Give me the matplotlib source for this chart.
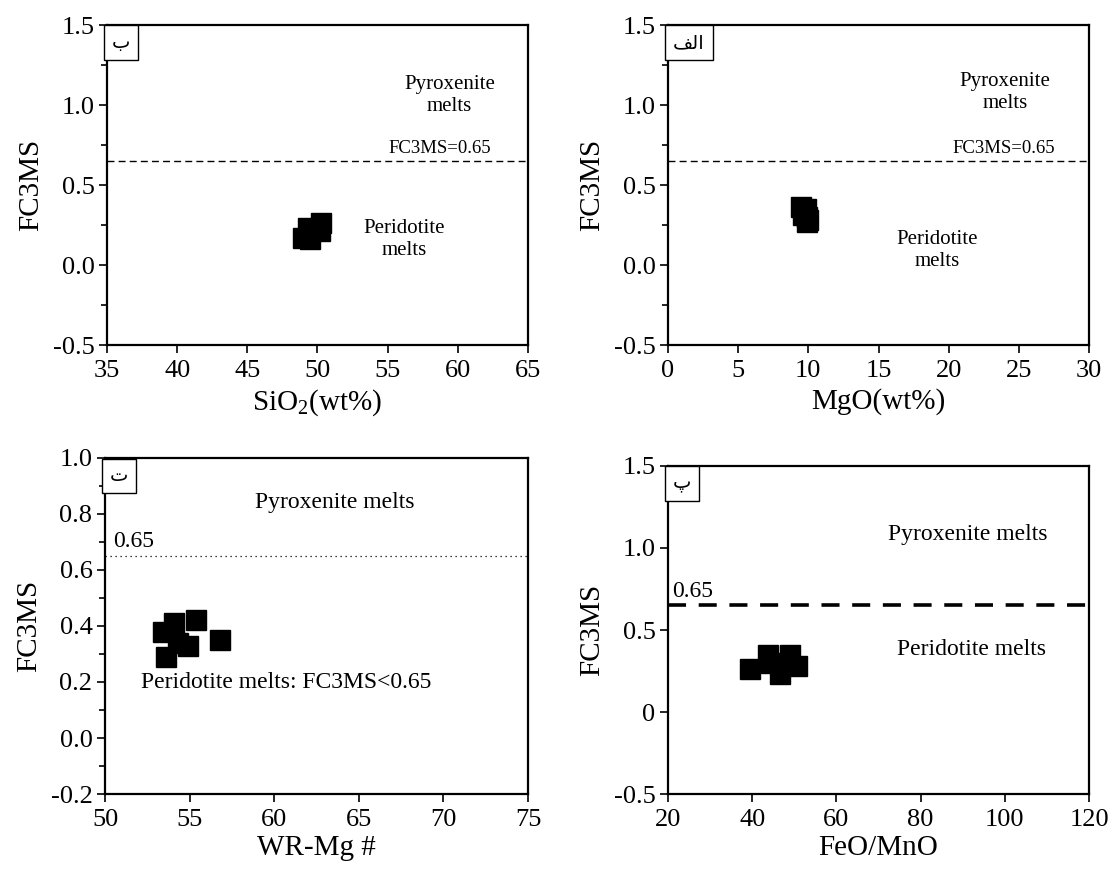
import matplotlib
matplotlib.use('Agg')
import matplotlib.pyplot as plt
from matplotlib.ticker import MultipleLocator, FormatStrFormatter

plt.rcParams['font.family'] = ['Liberation Serif', 'DejaVu Sans']
plt.rcParams['mathtext.fontset'] = 'custom'
plt.rcParams['mathtext.rm'] = 'Liberation Serif'
plt.rcParams['mathtext.it'] = 'Liberation Serif:italic'
plt.rcParams['axes.unicode_minus'] = False

# sample data: FC3MS against four whole-rock parameters
sio2 = [50.25, 49.7, 49.0, 49.5, 50.2, 49.3]
fc3ms_sio2 = [0.26, 0.22, 0.17, 0.16, 0.21, 0.23]

mgo = [9.5, 9.8, 9.6, 9.9, 10.0, 9.9]
fc3ms_mgo = [0.36, 0.35, 0.31, 0.30, 0.28, 0.27]

mg_num = [53.4, 53.6, 54.1, 55.4, 56.8, 54.9, 54.3]
fc3ms_mg = [0.38, 0.29, 0.41, 0.42, 0.35, 0.33, 0.34]

feo_mno = [39.5, 43.8, 49.0, 50.6, 46.6, 44.5]
fc3ms_feo = [0.26, 0.35, 0.35, 0.28, 0.23, 0.30]

limit = 0.65

fig = plt.figure(figsize=(11.15, 8.72), dpi=100)
W, H = 1115, 872

TICK_FS = 19
LABEL_FS = 21
NOTE_FS = 17


def make_axes(left, top, right, bottom):
    return fig.add_axes([left / W, 1 - bottom / H, (right - left) / W, (bottom - top) / H])


def style(ax):
    for s in ax.spines.values():
        s.set_linewidth(1.6)
    ax.tick_params(which='both', direction='out', width=1.2, labelsize=TICK_FS)
    ax.tick_params(which='major', length=6)
    ax.tick_params(which='minor', length=4)
    ax.tick_params(axis='x', pad=5)
    ax.tick_params(axis='y', pad=3)


def tag(ax, txt):
    ax.text(0.012, 0.975, txt, transform=ax.transAxes, ha='left', va='top',
            fontsize=14, family=['DejaVu Sans'],
            bbox=dict(boxstyle='square,pad=0.4', fc='white', ec='black', lw=1.0))


ms = 15

# ب : SiO2
ax1 = make_axes(107, 25, 528, 345)
ax1.plot(sio2, fc3ms_sio2, 's', color='black', ms=ms, mec='black')
ax1.axhline(limit, color='black', lw=1.0, ls=(0, (5, 3)))
ax1.set_xlim(35, 65)
ax1.set_ylim(-0.5, 1.5)
ax1.xaxis.set_major_locator(MultipleLocator(5))
ax1.yaxis.set_major_locator(MultipleLocator(0.5))
ax1.yaxis.set_major_formatter(FormatStrFormatter('%.1f'))
ax1.yaxis.set_minor_locator(MultipleLocator(0.25))
ax1.text(59.4, 1.06, 'Pyroxenite\nmelts', ha='center', va='center', fontsize=15, linespacing=1.2)
ax1.text(58.7, 0.73, 'FC3MS=0.65', ha='center', va='center', fontsize=13.5)
ax1.text(56.2, 0.16, 'Peridotite\nmelts', ha='center', va='center', fontsize=15, linespacing=1.2)
ax1.set_xlabel('SiO$_2$(wt%)', fontsize=LABEL_FS, labelpad=4)
ax1.set_ylabel('FC3MS', fontsize=LABEL_FS, labelpad=6)
style(ax1)
tag(ax1, '\u0628')

# الف : MgO
ax2 = make_axes(668, 25, 1089, 345)
ax2.plot(mgo, fc3ms_mgo, 's', color='black', ms=ms, mec='black')
ax2.axhline(limit, color='black', lw=1.0, ls=(0, (5, 3)))
ax2.set_xlim(0, 30)
ax2.set_ylim(-0.5, 1.5)
ax2.xaxis.set_major_locator(MultipleLocator(5))
ax2.yaxis.set_major_locator(MultipleLocator(0.5))
ax2.yaxis.set_major_formatter(FormatStrFormatter('%.1f'))
ax2.yaxis.set_minor_locator(MultipleLocator(0.25))
ax2.text(24.0, 1.08, 'Pyroxenite\nmelts', ha='center', va='center', fontsize=15, linespacing=1.2)
ax2.text(23.9, 0.73, 'FC3MS=0.65', ha='center', va='center', fontsize=13.5)
ax2.text(19.2, 0.09, 'Peridotite\nmelts', ha='center', va='center', fontsize=15, linespacing=1.2)
ax2.set_xlabel('MgO(wt%)', fontsize=LABEL_FS, labelpad=4)
ax2.set_ylabel('FC3MS', fontsize=LABEL_FS, labelpad=6)
style(ax2)
tag(ax2, '\ufed2\ufedf\ufe8d')

# ت : WR-Mg#
ax3 = make_axes(105, 458, 528, 794)
ax3.plot(mg_num, fc3ms_mg, 's', color='black', ms=ms, mec='black')
ax3.axhline(limit, color='black', lw=0.9, ls=(0, (1, 3)))
ax3.set_xlim(50, 75)
ax3.set_ylim(-0.2, 1.0)
ax3.xaxis.set_major_locator(MultipleLocator(5))
ax3.yaxis.set_major_locator(MultipleLocator(0.2))
ax3.yaxis.set_minor_locator(MultipleLocator(0.1))
ax3.yaxis.set_major_formatter(FormatStrFormatter('%.1f'))
ax3.text(63.6, 0.84, 'Pyroxenite melts', ha='center', va='center', fontsize=NOTE_FS)
ax3.text(50.5, 0.665, '0.65', ha='left', va='bottom', fontsize=NOTE_FS)
ax3.text(60.7, 0.20, 'Peridotite melts: FC3MS<0.65', ha='center', va='center', fontsize=NOTE_FS)
ax3.set_xlabel('WR-Mg #', fontsize=LABEL_FS, labelpad=3)
ax3.set_ylabel('FC3MS', fontsize=LABEL_FS, labelpad=6)
style(ax3)
tag(ax3, '\u062a')

# پ : FeO/MnO
ax4 = make_axes(668, 466, 1089, 794)
ax4.plot(feo_mno, fc3ms_feo, 's', color='black', ms=ms, mec='black')
ax4.axhline(limit, color='black', lw=2.6, ls=(0, (5, 3.5)))
ax4.set_xlim(20, 120)
ax4.set_ylim(-0.5, 1.5)
ax4.xaxis.set_major_locator(MultipleLocator(20))
ax4.set_yticks([-0.5, 0, 0.5, 1.0, 1.5])
ax4.set_yticklabels(['-0.5', '0', '0.5', '1.0', '1.5'])
ax4.text(91.3, 1.08, 'Pyroxenite melts', ha='center', va='center', fontsize=NOTE_FS)
ax4.text(21.0, 0.67, '0.65', ha='left', va='bottom', fontsize=NOTE_FS)
ax4.text(92.2, 0.38, 'Peridotite melts', ha='center', va='center', fontsize=NOTE_FS)
ax4.set_xlabel('FeO/MnO', fontsize=LABEL_FS, labelpad=3)
ax4.set_ylabel('FC3MS', fontsize=LABEL_FS, labelpad=6)
style(ax4)
tag(ax4, '\u067e')

fig.savefig('out.png', dpi=100)
